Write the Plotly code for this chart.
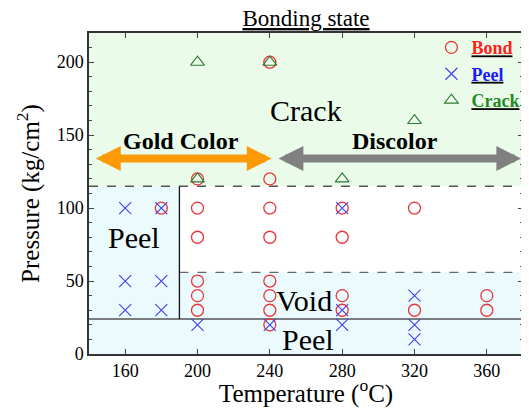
import plotly.graph_objects as go

# ---- data ----
bond_t = [240, 200, 240, 180, 200, 240, 280, 320, 200, 240, 280, 200, 240, 200, 240, 280, 360, 200, 240, 280, 320, 360, 240]
bond_p = [200, 120, 120, 100, 100, 100, 100, 100, 80, 80, 80, 50, 50, 40, 40, 40, 40, 30, 30, 30, 30, 30, 20]

peel_t = [160, 180, 280, 160, 180, 160, 180, 200, 240, 280, 280, 320, 320, 320]
peel_p = [100, 100, 100, 50, 50, 30, 30, 20, 20, 30, 20, 40, 20, 10]

crack_t = [200, 240, 320, 200, 280]
crack_p = [200, 200, 160, 120, 120]

x_ticks = [160, 200, 240, 280, 320, 360]
y_ticks = [0, 50, 100, 150, 200]

# region boundaries (temperature / pressure)
t_min, t_split, t_max = 140, 190, 380
p_low, p_void, p_crack, p_max = 24, 56, 115, 220

SERIF = "Liberation Serif, Times New Roman, serif"
RED = "#e8363a"
BLUE = "#4040f0"
GREEN = "#2f7a32"
LGREEN = "#eafbea"
LCYAN = "#ebfafc"

fig = go.Figure()
fig.add_trace(go.Scatter(x=bond_t, y=bond_p, mode="markers",
                         name="<span style='color:#ff2020'><b>Bond</b></span>",
                         marker=dict(symbol="circle-open", size=12, color=RED, line=dict(width=1.3, color=RED))))
fig.add_trace(go.Scatter(x=peel_t, y=peel_p, mode="markers",
                         name="<span style='color:#1a1aff'><b>Peel</b></span>",
                         marker=dict(symbol="x-thin-open", size=12, color=BLUE, line=dict(width=1.1, color=BLUE))))
fig.add_trace(go.Scatter(x=crack_t, y=crack_p, mode="markers",
                         name="<span style='color:#1f8a1f'><b>Crack</b></span>",
                         marker=dict(symbol="triangle-up-open", size=12, color=GREEN, line=dict(width=1.1, color=GREEN))))

shapes = [
    dict(type="rect", xref="x", yref="y", x0=t_min, x1=t_max, y0=p_crack, y1=p_max, fillcolor=LGREEN, line_width=0, layer="below"),
    dict(type="rect", xref="x", yref="y", x0=t_min, x1=t_split, y0=0, y1=p_crack, fillcolor=LCYAN, line_width=0, layer="below"),
    dict(type="rect", xref="x", yref="y", x0=t_min, x1=t_max, y0=0, y1=p_low, fillcolor=LCYAN, line_width=0, layer="below"),
    dict(type="rect", xref="x", yref="y", x0=t_split, x1=t_max, y0=p_low, y1=p_void, fillcolor=LCYAN, line_width=0, layer="below"),
    dict(type="line", xref="x", yref="y", x0=t_min, x1=t_max, y0=p_crack, y1=p_crack, line=dict(color="#555555", width=1.5, dash="dash"), layer="below"),
    dict(type="line", xref="x", yref="y", x0=t_min, x1=t_max, y0=p_low, y1=p_low, line=dict(color="#555555", width=1.5), layer="below"),
    dict(type="line", xref="x", yref="y", x0=t_split, x1=t_max, y0=p_void, y1=p_void, line=dict(color="#666666", width=1.3, dash="dash"), layer="below"),
    dict(type="line", xref="x", yref="y", x0=t_split, x1=t_split, y0=p_low, y1=p_crack, line=dict(color="#111111", width=1.3), layer="below"),
]

annotations = [
    dict(x=260, y=167, xref="x", yref="y", text="Crack", showarrow=False, font=dict(family=SERIF, size=30, color="black")),
    dict(x=165, y=80, xref="x", yref="y", text="Peel", showarrow=False, font=dict(family=SERIF, size=30, color="black")),
    dict(x=259, y=37, xref="x", yref="y", text="Void", showarrow=False, font=dict(family=SERIF, size=30, color="black")),
    dict(x=261, y=10, xref="x", yref="y", text="Peel", showarrow=False, font=dict(family=SERIF, size=30, color="black")),
    dict(x=191, y=146, xref="x", yref="y", text="<b>Gold Color</b>", showarrow=False, font=dict(family=SERIF, size=24, color="black")),
    dict(x=309, y=146, xref="x", yref="y", text="<b>Discolor</b>", showarrow=False, font=dict(family=SERIF, size=24, color="black")),
    # double arrows
    dict(x=241, y=134, ax=143, ay=134, xref="x", yref="y", axref="x", ayref="y", text="", showarrow=True,
         arrowhead=2, startarrowhead=2, arrowside="end+start", arrowwidth=8, arrowsize=0.62, startarrowsize=0.62, arrowcolor="#fb9a06"),
    dict(x=379, y=134, ax=244, ay=134, xref="x", yref="y", axref="x", ayref="y", text="", showarrow=True,
         arrowhead=2, startarrowhead=2, arrowside="end+start", arrowwidth=8, arrowsize=0.62, startarrowsize=0.62, arrowcolor="#808080"),
]

# page body has an 8px margin -> figure is 8px smaller and margins shifted
fig.update_layout(
    width=521, height=400,
    margin=dict(l=81, r=4, t=25, b=49),
    paper_bgcolor="white", plot_bgcolor="white",
    title=dict(text="Bonding state", x=0.572, xanchor="center", y=0.975, yanchor="middle",
               font=dict(family=SERIF, size=23, color="black", lineposition="under")),
    shapes=shapes, annotations=annotations,
    showlegend=True,
    legend=dict(x=0.789, y=1.012, xanchor="left", yanchor="top", bgcolor="rgba(0,0,0,0)",
                font=dict(family=SERIF, size=18, color="black", lineposition="under"),
                tracegroupgap=0),
    font=dict(family=SERIF, color="black"),
)
fig.update_xaxes(range=[t_min, t_max], tickvals=x_ticks, ticks="inside", ticklen=5, mirror="ticks",
                 showline=True, linecolor="#333333", linewidth=1.5, showgrid=False, zeroline=False,
                 tickfont=dict(family=SERIF, size=18),
                 title=dict(text="Temperature (<sup>o</sup>C)", font=dict(family=SERIF, size=25), standoff=5))
fig.update_yaxes(range=[0, p_max], tickvals=y_ticks, ticks="inside", ticklen=5, mirror="ticks",
                 minor=dict(dtick=10, ticks="inside", ticklen=3),
                 showline=True, linecolor="#333333", linewidth=1.5, showgrid=False, zeroline=False,
                 tickfont=dict(family=SERIF, size=18),
                 title=dict(text="Pressure (kg/cm<sup>2</sup>)", font=dict(family=SERIF, size=25), standoff=10))

fig.write_html("out.html")
